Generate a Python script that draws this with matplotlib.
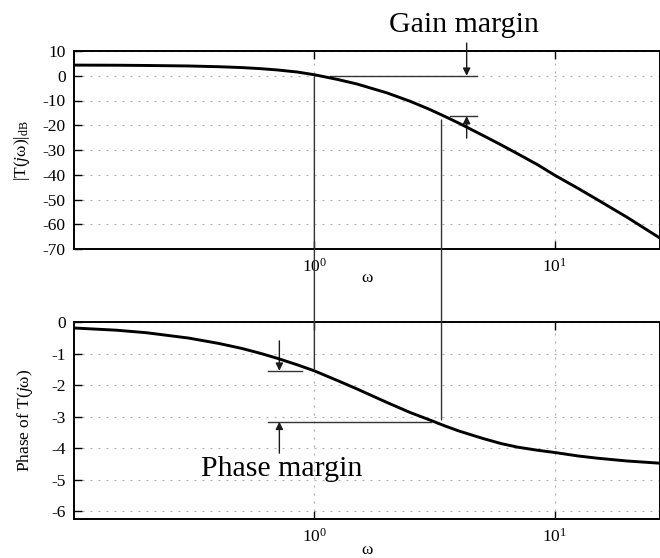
import matplotlib
matplotlib.use("Agg")
import matplotlib.pyplot as plt
from matplotlib.patches import ConnectionPatch
from matplotlib.ticker import NullLocator

# ── Frequency response, read at a set of frequencies ────────────────────────
omega = [0.1, 0.15, 0.2, 0.3, 0.4, 0.5, 0.6, 0.7, 0.85, 1.0, 1.25, 1.5,
         2.0, 2.5, 3.0, 3.5, 4.0, 5.0, 6.0, 7.0, 8.5, 10.0, 12.5, 15.0,
         20.0, 27.4]
mag_db = [4.3, 4.25, 4.15, 3.95, 3.65, 3.3, 2.85, 2.35, 1.5, 0.4, -1.5,
          -3.3, -6.9, -10.3, -13.5, -16.5, -19.2, -24.0, -28.0, -31.5,
          -36.0, -40.2, -45.5, -50.0, -57.2, -65.6]
phase = [-0.19, -0.26, -0.34, -0.51, -0.68, -0.84, -1.0, -1.15, -1.36,
         -1.55, -1.86, -2.12, -2.55, -2.87, -3.10, -3.30, -3.46, -3.69,
         -3.86, -3.97, -4.07, -4.14, -4.25, -4.32, -4.41, -4.48]

decade_ticks = [1, 10]
mag_ticks = [10, 0, -10, -20, -30, -40, -50, -60, -70]
phase_ticks = [0, -1, -2, -3, -4, -5, -6]

plt.rcParams["font.family"] = "serif"
plt.rcParams["font.serif"] = ["Liberation Serif", "DejaVu Serif"]
plt.rcParams["mathtext.fontset"] = "custom"
plt.rcParams["mathtext.rm"] = "Liberation Serif"
plt.rcParams["mathtext.it"] = "Liberation Serif:italic"
plt.rcParams["axes.unicode_minus"] = False

W, H = 660, 558
fig = plt.figure(figsize=(W / 100, H / 100), dpi=100)
ax1 = fig.add_axes([74 / W, 1 - 249 / H, 1 - 74 / W, 198 / H])
ax2 = fig.add_axes([74 / W, 1 - 519 / H, 1 - 74 / W, 197 / H])

GRID = dict(color="0.68", linestyle=(0, (1.8, 5.4)), linewidth=0.8)
ANN = dict(color="0.2", linewidth=1.0)


def style_axes(ax, yticks):
    ax.set_xscale("log")
    ax.set_xlim(0.1, 27.4)
    ax.set_xticks(decade_ticks)
    ax.set_xticklabels([r"$\mathdefault{10^{%d}}$" % i
                        for i in range(len(decade_ticks))])
    ax.xaxis.set_minor_locator(NullLocator())
    ax.set_yticks(yticks)
    ax.tick_params(direction="in", length=6, width=1.0, top=True,
                   labelsize=12.5, pad=6)
    ax.grid(True, **GRID)
    for sp in ax.spines.values():
        sp.set_linewidth(1.4)
    ax.set_xlabel("ω", fontsize=12.5)


def arrow(ax, x, y_from, y_to):
    ax.annotate("", xy=(x, y_to), xytext=(x, y_from),
                arrowprops=dict(arrowstyle="-|>", mutation_scale=11,
                                shrinkA=0, shrinkB=0, lw=1.0, color="0.1"),
                annotation_clip=False)


# ── Magnitude ───────────────────────────────────────────────────────────────
ax1.plot(omega, mag_db, color="black", linewidth=2.1, zorder=5)
style_axes(ax1, mag_ticks)
ax1.set_ylim(-70, 10)
ax1.set_ylabel(r"$|\mathrm{T}(j\mathrm{\omega})|_{\mathrm{dB}}$", fontsize=12.5)
ax1.yaxis.set_label_coords(-0.072, 0.5)
ax1.xaxis.set_label_coords(0.5, -0.105)

# gain margin marks
ax1.plot([1.166, 4.73], [0, 0], **ANN)
ax1.plot([3.68, 4.73], [-16.3, -16.3], **ANN)
arrow(ax1, 4.3, 13.2, 0)
arrow(ax1, 4.3, -25.2, -16.3)

# ── Phase ───────────────────────────────────────────────────────────────────
ax2.plot(omega, phase, color="black", linewidth=2.1, zorder=5)
style_axes(ax2, phase_ticks)
ax2.set_ylim(-6.25, 0)
ax2.set_ylabel(r"Phase of T($j$ω)", fontsize=12.5)
ax2.yaxis.set_label_coords(-0.067, 0.5)
ax2.xaxis.set_label_coords(0.5, -0.115)

# phase margin marks
ax2.plot([0.643, 0.891], [-1.546, -1.546], **ANN)
ax2.plot([0.643, 3.07], [-3.165, -3.165], **ANN)
arrow(ax2, 0.715, -0.60, -1.546)
arrow(ax2, 0.715, -4.16, -3.165)

# crossover lines running through both panels
for w, m, p in [(1.0, -0.4, -1.52), (3.38, -17.9, -3.11)]:
    con = ConnectionPatch(xyA=(w, m), coordsA=ax1.transData,
                          xyB=(w, p), coordsB=ax2.transData, **ANN)
    con.set_zorder(4)
    fig.add_artist(con)

fig.text(464 / W, 1 - 32 / H, "Gain margin", fontsize=21.5,
         ha="center", va="baseline")
fig.text(282 / W, 1 - 476 / H, "Phase margin", fontsize=21.5,
         ha="center", va="baseline")

fig.savefig("out.png", dpi=100)
